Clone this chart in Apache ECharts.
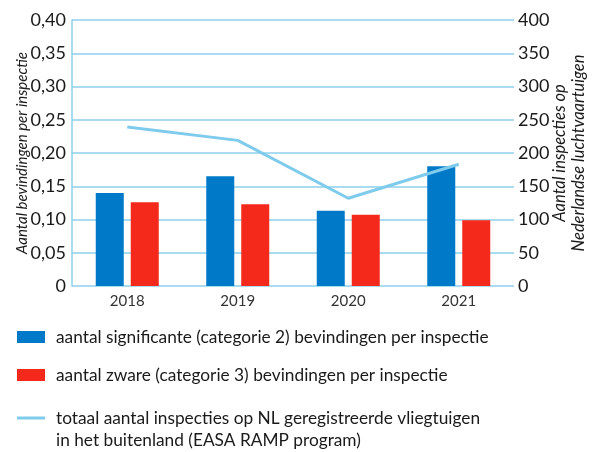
<!DOCTYPE html>
<html>
<head>
<meta charset="utf-8">
<script src="https://cdn.jsdelivr.net/npm/echarts@6/dist/echarts.min.js"></script>
<style>
  html, body { margin: 0; padding: 0; background: #fff; }
  #chart { width: 598px; height: 452px; }
</style>
</head>
<body>
<div id="chart"></div>
<script>
// jaren
var years = ['2018', '2019', '2020', '2021'];
// bevindingen per inspectie
var cat2 = [0.140, 0.165, 0.113, 0.180];
var cat3 = [0.126, 0.123, 0.107, 0.099];
// aantal inspecties
var inspecties = [239, 219, 132, 183];

var name2 = 'aantal significante (categorie 2) bevindingen per inspectie';
var name3 = 'aantal zware (categorie 3) bevindingen per inspectie';
var nameL = 'totaal aantal inspecties op NL geregistreerde vliegtuigen\nin het buitenland (EASA RAMP program)';

var font = 'Lato';
var textColor = '#1a1a1a';
var gridColor = '#8dd1ec';

var legendText = {
    fontFamily: font,
    fontSize: 17.3,
    lineHeight: 22,
    color: textColor,
    padding: [0, 0, 0, 6]
};

var myChart = echarts.init(document.getElementById('chart'));
myChart.setOption({
    animation: false,
    grid: { left: 72, right: 84, top: 20, bottom: 166, outerBoundsMode: 'none' },
    legend: [
        {
            data: [{ name: name2, icon: 'rect' }],
            left: 12, top: 321,
            itemWidth: 28, itemHeight: 12,
            textStyle: legendText
        },
        {
            data: [{ name: name3, icon: 'rect' }],
            left: 12, top: 359,
            itemWidth: 28, itemHeight: 12,
            textStyle: legendText
        },
        {
            data: [{ name: nameL, icon: 'rect' }],
            left: 12, top: 380,
            itemWidth: 28, itemHeight: 3,
            // lege regel erboven zodat het lijntje bij de eerste regel staat
            formatter: function (n) { return ' \n' + n; },
            textStyle: legendText
        }
    ],
    xAxis: {
        type: 'category',
        data: years,
        axisLine: { show: false },
        axisTick: { show: false },
        axisLabel: { fontFamily: font, fontSize: 15, color: '#333', margin: 8 }
    },
    yAxis: [
        {
            type: 'value',
            min: 0, max: 0.4, interval: 0.05,
            name: 'Aantal bevindingen per inspectie',
            nameLocation: 'middle',
            nameGap: 42,
            nameMoveOverlap: false,
            nameTextStyle: { fontFamily: font, fontSize: 15, fontStyle: 'italic', color: textColor },
            axisLine: { show: true, lineStyle: { color: gridColor, width: 1.5 } },
            axisTick: { show: false },
            splitLine: { lineStyle: { color: gridColor, width: 1.5 } },
            axisLabel: {
                fontFamily: font, fontSize: 18, color: textColor, margin: 6,
                formatter: function (v) {
                    return v === 0 ? '0' : v.toFixed(2).replace('.', ',');
                }
            }
        },
        {
            type: 'value',
            min: 0, max: 400, interval: 50,
            position: 'right',
            name: 'Aantal inspecties op\nNederlandse luchtvaartuigen',
            nameLocation: 'middle',
            nameRotate: 90,
            nameGap: 36,
            nameMoveOverlap: false,
            nameTextStyle: { fontFamily: font, fontSize: 16.5, fontStyle: 'italic', color: textColor, lineHeight: 19 },
            axisLine: { show: false },
            axisTick: { show: false },
            splitLine: { show: false },
            axisLabel: { fontFamily: font, fontSize: 18, color: textColor, margin: 4 }
        }
    ],
    series: [
        {
            name: name2,
            type: 'bar',
            data: cat2,
            barWidth: 28,
            barGap: '25%',
            itemStyle: { color: '#0079c8' }
        },
        {
            name: name3,
            type: 'bar',
            data: cat3,
            barWidth: 28,
            itemStyle: { color: '#f4281b' }
        },
        {
            name: nameL,
            type: 'line',
            yAxisIndex: 1,
            data: inspecties,
            symbol: 'none',
            lineStyle: { color: '#7fcbec', width: 3 },
            itemStyle: { color: '#7fcbec' }
        }
    ]
});
</script>
</body>
</html>
